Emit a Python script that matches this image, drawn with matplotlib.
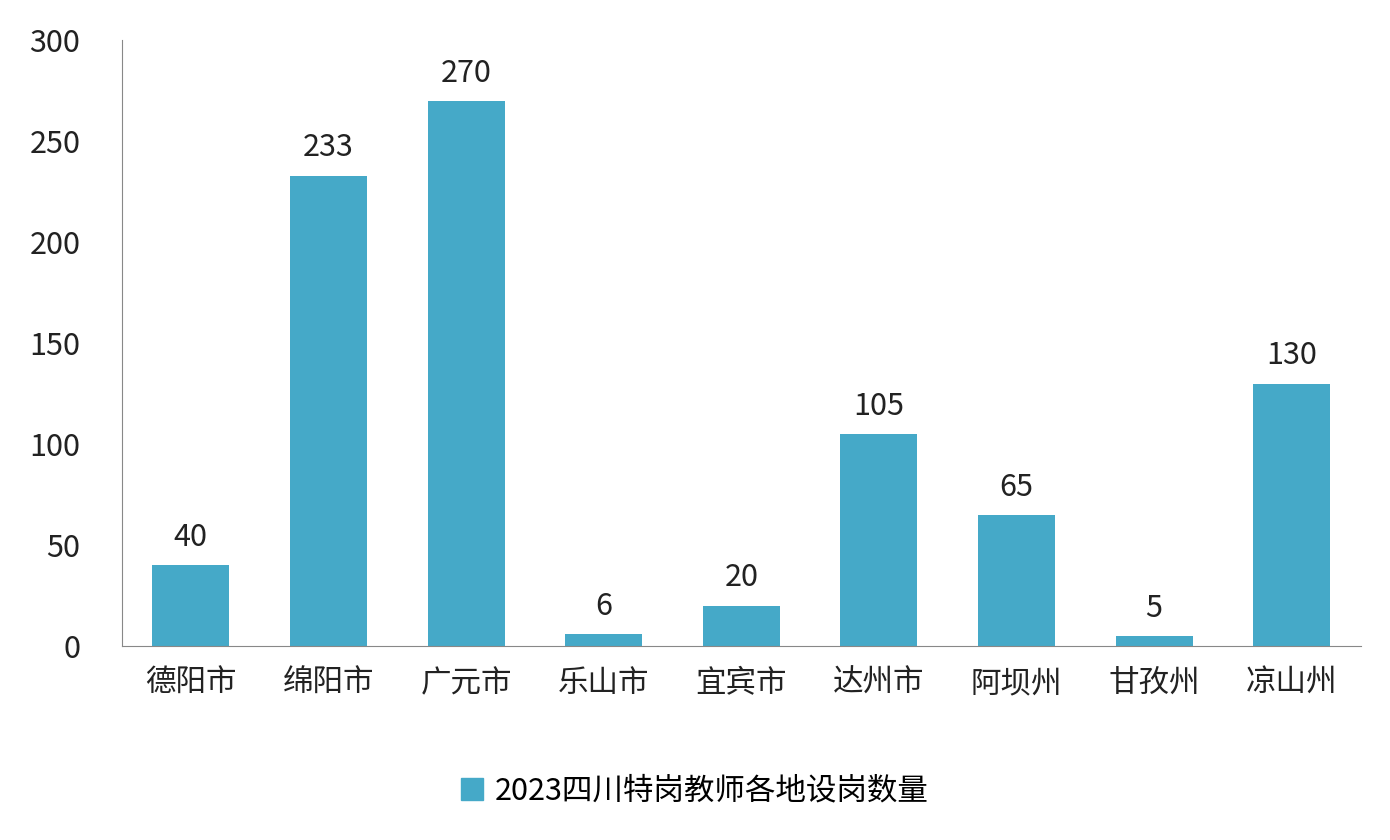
import matplotlib
matplotlib.use("Agg")
import matplotlib.pyplot as plt
from matplotlib.patches import Patch

plt.rcParams['font.family'] = ['Noto Sans CJK SC', 'DejaVu Sans']

categories = ['德阳市', '绵阳市', '广元市', '乐山市', '宜宾市', '达州市', '阿坝州', '甘孜州', '凉山州']
values = [40, 233, 270, 6, 20, 105, 65, 5, 130]
series_name = '2023四川特岗教师各地设岗数量'
color = '#45A9C8'

fig = plt.figure(figsize=(13.9, 8.4), dpi=100)
ax = fig.add_axes([0.0878, 0.231, 0.891, 0.721])
x = range(len(categories))
ax.bar(x, values, width=0.56, color=color)
for xi, v in zip(x, values):
    ax.text(xi, v + 6, str(v), ha='center', va='bottom', fontsize=22, color='#222222')
ax.set_xlim(-0.5, len(categories) - 0.5)
ax.set_ylim(0, 300)
ax.set_yticks(range(0, 301, 50))
ax.set_xticks(list(x))
ax.set_xticklabels(categories)
ax.tick_params(axis='y', labelsize=22, length=0, pad=30, labelcolor='#222222')
ax.tick_params(axis='x', labelsize=22, length=0, pad=16, labelcolor='#222222')
for s in ['top', 'right']:
    ax.spines[s].set_visible(False)
for s in ['left', 'bottom']:
    ax.spines[s].set_color('#888888')
fig.legend(handles=[Patch(color=color, label=series_name)], loc='center',
           bbox_to_anchor=(0.5, 0.058), frameon=False, fontsize=22,
           handlelength=0.7, handleheight=0.7, handletextpad=0.4)
fig.savefig('out.png', dpi=100)
